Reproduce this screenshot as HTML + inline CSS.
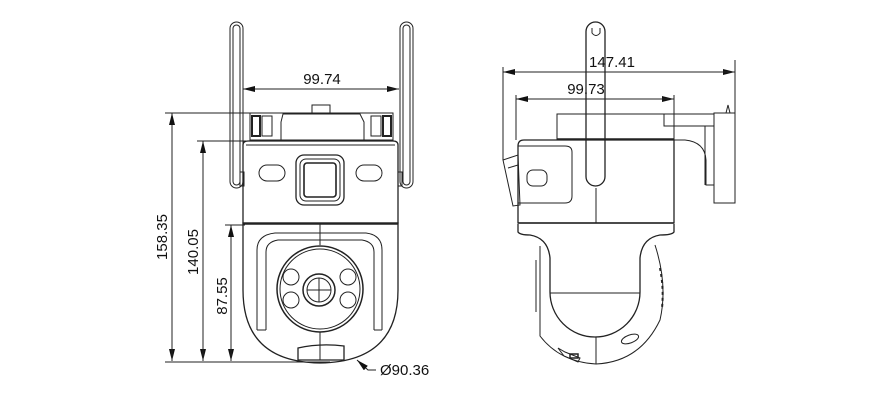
<!DOCTYPE html>
<html><head><meta charset="utf-8"><style>
html,body{margin:0;padding:0;background:#fff}
svg{display:block}
text{font-family:"Liberation Sans",sans-serif;font-size:15px;fill:#111}
</style></head><body>
<svg width="891" height="401" viewBox="0 0 891 401" xmlns="http://www.w3.org/2000/svg">
<defs>
<marker id="a" markerWidth="12" markerHeight="6" refX="12" refY="3" orient="auto" markerUnits="userSpaceOnUse"><path d="M0,0 L12,3 L0,6 z" fill="#111"/></marker>
</defs>
<g fill="none" stroke="#222" stroke-width="1">
<!-- FRONT VIEW -->
<!-- antennas -->
<rect x="230" y="22" width="13" height="166" rx="6.5"/>
<rect x="233" y="25" width="7" height="160" rx="3.5"/>
<rect x="400" y="22" width="13" height="166" rx="6.5"/>
<rect x="403" y="25" width="7" height="160" rx="3.5"/>
<rect x="240" y="172" width="4" height="14"/>
<rect x="398" y="172" width="4" height="14"/>
<!-- mount -->
<rect x="312" y="105" width="18" height="8"/>
<rect x="250" y="113" width="143" height="27"/>
<path d="M283,114 L360,114 L364,122 L364,140 L281,140 L281,122 z" fill="#fff"/>
<rect x="252" y="116" width="8" height="20" stroke-width="2"/>
<rect x="383" y="116" width="8" height="20" stroke-width="2"/>
<rect x="262" y="116" width="10" height="20"/>
<rect x="371" y="116" width="10" height="20"/>
<!-- upper body -->
<path d="M243,223 L243,145 Q243,141 248,141 L393,141 Q398,141 398,145 L398,223 z" stroke-width="1.3"/>
<line x1="246" y1="145" x2="395" y2="145"/>
<rect x="259" y="165" width="26" height="16" rx="8"/>
<rect x="356" y="165" width="26" height="16" rx="8"/>
<rect x="296" y="155" width="48" height="50" rx="8" stroke-width="1.3"/>
<rect x="300" y="159" width="40" height="42" rx="6"/>
<rect x="304" y="163" width="32" height="34" rx="3" stroke-width="1.6"/>
<!-- lower body -->
<path d="M243,223 L398,223 L398,290 Q398,362 320,363 Q243,362 243,290 z" stroke-width="1.3"/>
<line x1="243" y1="224" x2="398" y2="224" stroke-width="1.5"/>
<path d="M257,330 L257,250 Q257,235 275,233 L366,233 Q382,235 382,250 L382,330" />
<path d="M266,330 L266,252 Q266,242 278,240 L362,240 Q374,242 374,252 L374,330" />
<line x1="257" y1="330" x2="266" y2="330"/><line x1="374" y1="330" x2="382" y2="330"/>
<circle cx="320" cy="289" r="43" stroke-width="1.5"/>
<circle cx="320" cy="289" r="40"/>
<circle cx="319" cy="290" r="16" stroke-width="1.5"/>
<circle cx="319" cy="290" r="12"/>
<line x1="307" y1="290" x2="331" y2="290"/><line x1="319" y1="278" x2="319" y2="302"/>
<circle cx="291" cy="277" r="8"/><circle cx="291" cy="300" r="8"/>
<circle cx="348" cy="277" r="8"/><circle cx="348" cy="300" r="8"/>
<line x1="320" y1="224" x2="320" y2="245"/>
<line x1="320" y1="332" x2="320" y2="360"/>
<path d="M298,348 Q320,343 344,346 L344,360 L298,360 z" stroke-width="1.3"/>
<!-- front dims -->
<line x1="243" y1="89" x2="399" y2="89" marker-end="url(#a)"/>
<line x1="399" y1="89" x2="243" y2="89" marker-end="url(#a)"/>
<line x1="165" y1="113" x2="290" y2="113"/>
<line x1="197" y1="141" x2="246" y2="141"/>
<line x1="225" y1="225" x2="245" y2="225"/>
<line x1="165" y1="362" x2="330" y2="362"/>
<line x1="172" y1="113" x2="172" y2="361" marker-end="url(#a)"/>
<line x1="172" y1="361" x2="172" y2="113" marker-end="url(#a)"/>
<line x1="203" y1="141" x2="203" y2="361" marker-end="url(#a)"/>
<line x1="203" y1="361" x2="203" y2="141" marker-end="url(#a)"/>
<line x1="231" y1="225" x2="231" y2="361" marker-end="url(#a)"/>
<line x1="231" y1="361" x2="231" y2="225" marker-end="url(#a)"/>
<path d="M376,370 L368,370 L357,360" marker-end="url(#a)"/>

<!-- SIDE VIEW -->
<rect x="586" y="22" width="19" height="164" rx="9.5" stroke-width="1.3"/>
<path d="M592,28 L592,33 Q596,38 600,33 L600,28"/>
<!-- mount -->
<rect x="557" y="114" width="117" height="26"/>
<line x1="557" y1="139" x2="674" y2="139" stroke-width="1.5"/>
<rect x="664" y="114" width="50" height="12"/>
<rect x="714" y="113" width="21" height="90"/>
<path d="M726,113 L728,105 L730,113"/>
<path d="M674,140 L685,140 Q705,142 706,160 L706,185 L714,185"/>
<line x1="705" y1="126" x2="705" y2="185"/>
<!-- upper body -->
<path d="M518,223 L518,146 Q518,140 524,140 L674,140 L674,223 z" stroke-width="1.3"/>
<path d="M518,203 L565,203 Q572,203 572,196 L572,152 Q572,146 565,146 L518,146"/>
<rect x="527" y="170" width="20" height="16" rx="6"/>
<path d="M503,160 L518,155 L520,205 L513,206 z"/>
<path d="M508,168 L518,165"/>
<line x1="596" y1="188" x2="596" y2="223"/>
<line x1="518" y1="223" x2="674" y2="223" stroke-width="1.5"/>
<!-- lower -->
<path d="M518,224 L518,232 Q520,235 530,235 Q548,238 550,258 L550,292 A45,45 0 0 0 640,292 L640,258 Q642,238 660,235 Q672,235 674,232 L674,224" stroke-width="1.3"/>
<line x1="550" y1="293" x2="640" y2="293"/>
<path d="M540,246 L540,336 Q560,362 596,364 Q640,362 660,320 Q668,285 655,245"/>
<path d="M536,260 L536,312"/>
<path d="M660,268 Q664,288 662,308" stroke-width="2" stroke-dasharray="3,3"/>
<line x1="596" y1="337" x2="596" y2="364"/>
<ellipse cx="630" cy="339" rx="9" ry="4" transform="rotate(-20 630 339)"/>
<path d="M558,348 L565,352 L580,358 L578,362 L564,356 z"/>
<rect x="570" y="354" width="8" height="4" stroke-width="1.5"/>
<!-- side dims -->
<line x1="503" y1="67" x2="503" y2="160"/>
<line x1="516" y1="95" x2="516" y2="140"/>
<line x1="674" y1="95" x2="674" y2="140"/>
<line x1="735" y1="60" x2="735" y2="203"/>
<line x1="503" y1="72" x2="735" y2="72" marker-end="url(#a)"/>
<line x1="735" y1="72" x2="503" y2="72" marker-end="url(#a)"/>
<line x1="516" y1="99" x2="674" y2="99" marker-end="url(#a)"/>
<line x1="674" y1="99" x2="516" y2="99" marker-end="url(#a)"/>
</g>
<text x="322" y="84" text-anchor="middle">99.74</text>
<text x="612" y="67" text-anchor="middle">147.41</text>
<text x="586" y="94" text-anchor="middle">99.73</text>
<text x="380" y="375">Ø90.36</text>
<text transform="translate(167,237) rotate(-90)" text-anchor="middle">158.35</text>
<text transform="translate(198,252) rotate(-90)" text-anchor="middle">140.05</text>
<text transform="translate(227,296) rotate(-90)" text-anchor="middle">87.55</text>
</svg>
</body></html>
